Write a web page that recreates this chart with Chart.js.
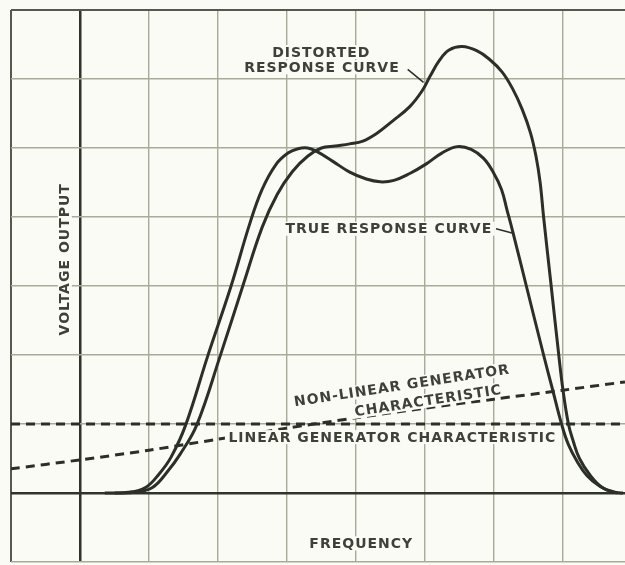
<!DOCTYPE html>
<html>
<head>
<script src="https://cdn.jsdelivr.net/npm/chart.js"></script>
<style>
  body { margin: 0; background: #fbfbf6; }
</style>
</head>

<body>
<div style="width:625px;height:565px">
  <canvas id="myChart" width="625" height="565"></canvas>
</div>

<script>
  // everything is in grid divisions, the axes cross at (0,0)
  const xTicks = [-1, 0, 1, 2, 3, 4, 5, 6, 7];
  const yTicks = [-1, 0, 1, 2, 3, 4, 5, 6, 7];

  const trueX = [0.36, 0.70, 0.95, 1.15, 1.32, 1.53, 1.85, 2.19, 2.46, 2.64, 2.84, 3.02, 3.16, 3.30, 3.43, 3.66, 3.91, 4.15, 4.35, 4.55, 4.78, 5.02, 5.25, 5.47, 5.67, 5.85, 5.99, 6.11, 6.19, 6.27, 6.47, 6.72, 6.85, 6.98, 7.08, 7.21, 7.35, 7.53, 7.70, 7.87];
  const trueY = [0, 0.01, 0.08, 0.28, 0.52, 0.98, 1.98, 3.0, 3.90, 4.40, 4.76, 4.93, 4.99, 5.0, 4.95, 4.81, 4.65, 4.55, 4.51, 4.53, 4.63, 4.77, 4.93, 5.02, 4.98, 4.85, 4.65, 4.40, 4.10, 3.80, 3.0, 2.0, 1.5, 1.0, 0.70, 0.45, 0.25, 0.10, 0.02, 0];

  const distX = [0.5, 0.80, 1.05, 1.26, 1.45, 1.69, 2.03, 2.36, 2.64, 2.86, 3.08, 3.30, 3.50, 3.70, 3.91, 4.10, 4.30, 4.53, 4.78, 4.96, 5.08, 5.21, 5.35, 5.54, 5.75, 5.93, 6.12, 6.27, 6.41, 6.53, 6.61, 6.67, 6.72, 6.83, 6.94, 7.00, 7.08, 7.15, 7.24, 7.40, 7.57, 7.79];
  const distY = [0, 0.01, 0.08, 0.30, 0.56, 0.98, 1.98, 3.0, 3.85, 4.33, 4.66, 4.88, 5.0, 5.03, 5.06, 5.10, 5.21, 5.39, 5.60, 5.83, 6.05, 6.27, 6.42, 6.47, 6.41, 6.29, 6.10, 5.86, 5.56, 5.22, 4.88, 4.50, 4.0, 3.0, 2.0, 1.5, 1.0, 0.75, 0.5, 0.25, 0.08, 0];

  const nonLinX = [-1, 0, 1, 2, 3, 4, 5, 6, 7, 7.9];
  const nonLinY = [0.35, 0.48, 0.62, 0.78, 0.94, 1.09, 1.23, 1.36, 1.49, 1.61];

  const linX = [-1, 7.9];
  const linY = [1.0, 1.0];

  // text on the drawing
  const noteText = ['DISTORTED', 'RESPONSE CURVE', 'TRUE RESPONSE CURVE', 'NON-LINEAR GENERATOR', 'CHARACTERISTIC', 'LINEAR GENERATOR CHARACTERISTIC', 'VOLTAGE OUTPUT', 'FREQUENCY'];
  const noteX = [3.49, 3.50, 4.47, 4.66, 5.04, 4.52, -0.22, 4.07];
  const noteY = [6.39, 6.17, 3.83, 1.56, 1.34, 0.81, 3.38, -0.73];
  const noteRot = [0, 0, 0, -8.7, -8.7, 0, -90, 0];

  // little pointer strokes from the labels to the curves
  const leaderX = [[4.75, 4.98], [6.03, 6.29]];
  const leaderY = [[6.14, 5.95], [3.83, 3.76]];

  const ink = '#2c2f27';
  const paper = '#fbfbf6';

  function pts(xs, ys) {
    return xs.map((v, i) => ({x: v, y: ys[i]}));
  }

  function gridColor(c) {
    const v = c.tick.value;
    if (v === 0) return '#30332b';
    if (c.scale.axis === 'x' && v === -1) return '#55584c';
    if (c.scale.axis === 'y' && v === 7) return '#55584c';
    return '#a8ab97';
  }
  function gridWidth(c) {
    const v = c.tick.value;
    if (v === 0) return 2.5;
    if (c.scale.axis === 'x' && v === -1) return 2;
    if (c.scale.axis === 'y' && v === 7) return 2;
    return 1.4;
  }

  const notesPlugin = {
    id: 'notes',
    afterDatasetsDraw(chart) {
      const c = chart.ctx;
      const sx = chart.scales.x, sy = chart.scales.y;
      c.save();
      c.strokeStyle = ink;
      c.lineWidth = 1.5;
      for (let i = 0; i < leaderX.length; i++) {
        c.beginPath();
        c.moveTo(sx.getPixelForValue(leaderX[i][0]), sy.getPixelForValue(leaderY[i][0]));
        c.lineTo(sx.getPixelForValue(leaderX[i][1]), sy.getPixelForValue(leaderY[i][1]));
        c.stroke();
      }
      c.font = 'bold 14px "DejaVu Sans"';
      c.letterSpacing = '1px';
      c.textAlign = 'center';
      c.textBaseline = 'middle';
      for (let i = 0; i < noteText.length; i++) {
        c.save();
        c.translate(sx.getPixelForValue(noteX[i]), sy.getPixelForValue(noteY[i]));
        c.rotate(noteRot[i] * Math.PI / 180);
        const w = c.measureText(noteText[i]).width;
        c.fillStyle = paper;
        c.fillRect(-w / 2 - 3, -7, w + 6, 14);
        c.fillStyle = '#3e4138';
        c.fillText(noteText[i], 0.5, 1);
        c.restore();
      }
      c.restore();
    }
  };

  const ctx = document.getElementById('myChart');
  new Chart(ctx, {
    type: 'scatter',
    data: {
      datasets: [
        {label: 'True response curve', data: pts(trueX, trueY), borderColor: ink, borderWidth: 3, tension: 0.4},
        {label: 'Distorted response curve', data: pts(distX, distY), borderColor: ink, borderWidth: 3, tension: 0.4},
        {label: 'Non-linear generator characteristic', data: pts(nonLinX, nonLinY), borderColor: ink, borderWidth: 3, borderDash: [9, 6], tension: 0.3},
        {label: 'Linear generator characteristic', data: pts(linX, linY), borderColor: ink, borderWidth: 3, borderDash: [9, 6]}
      ]
    },
    options: {
      responsive: false,
      animation: false,
      showLine: true,
      pointRadius: 0,
      layout: {padding: {left: 11, top: 10, right: 0, bottom: 3}},
      plugins: {legend: {display: false}, tooltip: {enabled: false}},
      scales: {
        x: {
          type: 'linear', min: -1, max: 7.9,
          afterBuildTicks: s => { s.ticks = xTicks.map(v => ({value: v})); },
          ticks: {display: false},
          border: {display: false},
          grid: {drawTicks: false, color: gridColor, lineWidth: gridWidth}
        },
        y: {
          type: 'linear', min: -1, max: 7,
          afterBuildTicks: s => { s.ticks = yTicks.map(v => ({value: v})); },
          ticks: {display: false},
          border: {display: false},
          grid: {drawTicks: false, color: gridColor, lineWidth: gridWidth}
        }
      }
    },
    plugins: [notesPlugin]
  });
</script>
</body>
</html>
